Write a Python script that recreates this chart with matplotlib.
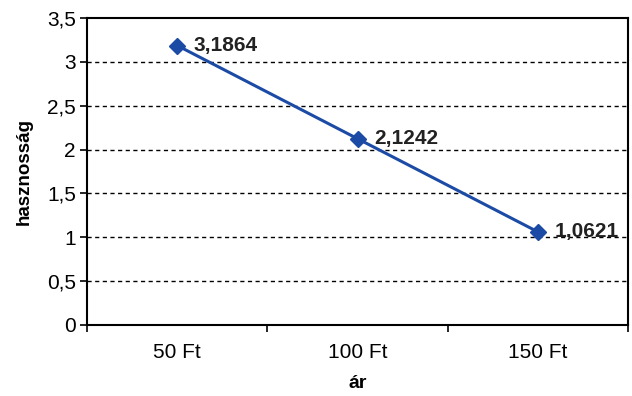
import numpy as np
import matplotlib.pyplot as plt
from matplotlib.ticker import FuncFormatter

plt.rcParams['font.family'] = ['Liberation Sans', 'DejaVu Sans']

# adatok
kategoriak = ['50 Ft', '100 Ft', '150 Ft']
hasznossag = [3.1864, 2.1242, 1.0621]
cimkek = ['3,1864', '2,1242', '1,0621']

fig = plt.figure(figsize=(6.32, 3.96), dpi=100)
ax = fig.add_axes([0.1377, 0.1793, 0.856, 0.7752])

x = np.arange(len(kategoriak))
ax.plot(x, hasznossag, color='#1c4ba6', lw=2.2, marker='D', ms=8, zorder=3)

for xi, yi, t in zip(x, hasznossag, cimkek):
    ax.annotate(t, (xi, yi), xytext=(12, 0), textcoords='offset points',
                va='center', ha='left', fontsize=15, fontweight='bold', color='#222222')

ax.set_xlim(-0.5, len(kategoriak) - 0.5)
ax.set_ylim(0, 3.5)
ax.set_yticks(np.arange(0, 3.51, 0.5))
ax.yaxis.set_major_formatter(FuncFormatter(lambda v, p: ('%g' % v).replace('.', ',')))
ax.set_xticks(x)
ax.set_xticklabels(kategoriak)
ax.set_xticks(np.arange(-0.5, len(kategoriak), 1), minor=True)
ax.tick_params(axis='x', which='major', length=0, labelsize=15, pad=13)
ax.tick_params(axis='x', which='minor', length=5, width=1.2, direction='out')
ax.tick_params(axis='y', length=5, width=1.2, labelsize=15, pad=3)

for y in np.arange(0.5, 3.5, 0.5):
    ax.axhline(y, color='black', lw=1, ls=(0, (3, 2.5)), zorder=1)

for s in ax.spines.values():
    s.set_linewidth(1.5)
    s.set_color('black')

ax.set_xlabel('ár', fontsize=14, fontweight='bold', labelpad=9)
ax.set_ylabel('hasznosság', fontsize=13.5, fontweight='bold', labelpad=10)

fig.savefig('out.png', dpi=100)
